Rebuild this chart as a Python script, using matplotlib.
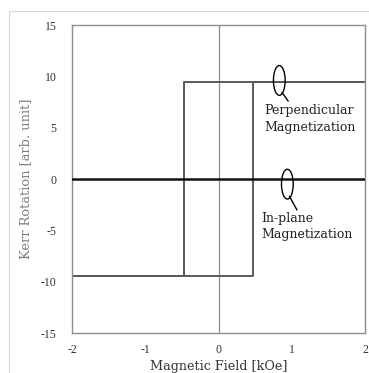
import matplotlib
matplotlib.use("Agg")
import matplotlib.pyplot as plt
from matplotlib.patches import Ellipse, Rectangle

# Data
field_perp_up = [-2.0, 0.47, 0.47, 2.0]
kerr_perp_up = [-9.4, -9.4, 9.4, 9.4]
field_perp_down = [2.0, -0.47, -0.47, -2.0]
kerr_perp_down = [9.4, 9.4, -9.4, -9.4]
field_inplane = [-2.0, 2.0]
kerr_inplane = [0.0, 0.0]
xticks = [-2, -1, 0, 1, 2]
yticks = [-15, -10, -5, 0, 5, 10, 15]

plt.rcParams['font.family'] = ['Liberation Serif', 'DejaVu Serif']

fig = plt.figure(figsize=(3.69, 3.73), dpi=100)
fig.patches.append(Rectangle((9/369, -0.1), 1.2, 1 - 11/373 + 0.1, transform=fig.transFigure,
                             fill=False, edgecolor='#d9d9d9', linewidth=0.8))
ax = fig.add_axes([72/369, 40/373, 293/369, 308/373])

ax.axvline(0, color='#8c8c8c', linewidth=0.9, zorder=1)
ax.plot(field_perp_up, kerr_perp_up, color='#5a5a5a', linewidth=1.4, zorder=2)
ax.plot(field_perp_down, kerr_perp_down, color='#5a5a5a', linewidth=1.4, zorder=2)
ax.plot(field_inplane, kerr_inplane, color='#111111', linewidth=1.8, zorder=3)

ax.set_xlim(-2, 2)
ax.set_ylim(-15, 15)
ax.set_xticks(xticks)
ax.set_yticks(yticks)
ax.set_xticklabels([str(t) for t in xticks])
ax.set_yticklabels([str(t) for t in yticks])
ax.tick_params(length=0, labelsize=8.5, colors='#333333')
ax.tick_params(axis='x', pad=8)
ax.tick_params(axis='y', pad=11)
for s in ax.spines.values():
    s.set_color('#8c8c8c')
    s.set_linewidth(1.0)

ax.set_xlabel('Magnetic Field [kOe]', fontsize=9.2, color='#333333', family='DejaVu Serif')
ax.xaxis.set_label_coords(0.5, -0.088)
ax.set_ylabel('Kerr Rotation [arb. unit]', fontsize=9.4, color='#7f7f7f', family='DejaVu Serif')
ax.yaxis.set_label_coords(-0.137, 0.5)

# annotations
ax.add_patch(Ellipse((0.83, 9.6), 0.16, 2.9, fill=False, edgecolor='black', linewidth=1.0, zorder=4))
ax.plot([0.87, 0.95], [8.4, 7.6], color='black', linewidth=1.0, zorder=4)
ax.text(0.62, 7.3, 'Perpendicular\nMagnetization', fontsize=9, color='#222222',
        va='top', ha='left', linespacing=1.35, family='DejaVu Serif')

ax.add_patch(Ellipse((0.94, -0.5), 0.16, 2.9, fill=False, edgecolor='black', linewidth=1.0, zorder=4))
ax.plot([0.97, 1.07], [-1.7, -3.0], color='black', linewidth=1.0, zorder=4)
ax.text(0.59, -3.2, 'In-plane\nMagnetization', fontsize=9, color='#222222',
        va='top', ha='left', linespacing=1.35, family='DejaVu Serif')

fig.savefig('out.png', dpi=100)
